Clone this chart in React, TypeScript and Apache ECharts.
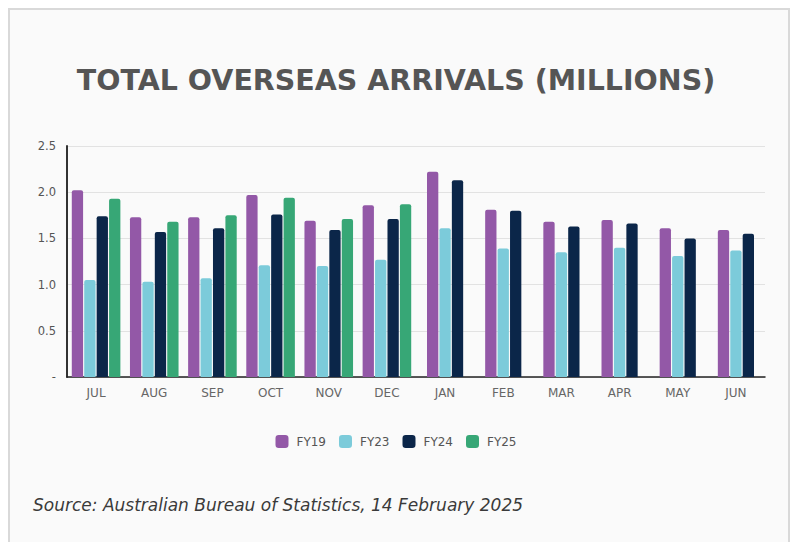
import React, { useEffect, useRef } from "react";
import * as echarts from "echarts";

const titleText = "TOTAL OVERSEAS ARRIVALS (MILLIONS)";
const sourceText = "Source: Australian Bureau of Statistics, 14 February 2025";
const months = ["JUL", "AUG", "SEP", "OCT", "NOV", "DEC", "JAN", "FEB", "MAR", "APR", "MAY", "JUN"];
const fy19 = [2.02, 1.73, 1.73, 1.97, 1.69, 1.86, 2.22, 1.81, 1.68, 1.70, 1.61, 1.59];
const fy23 = [1.05, 1.03, 1.07, 1.21, 1.20, 1.27, 1.61, 1.39, 1.35, 1.40, 1.31, 1.37];
const fy24 = [1.74, 1.57, 1.61, 1.76, 1.59, 1.71, 2.13, 1.80, 1.63, 1.66, 1.50, 1.55];
const fy25: (number | null)[] = [1.93, 1.68, 1.75, 1.94, 1.71, 1.87, null, null, null, null, null, null];
const yTicks = [0, 0.5, 1.0, 1.5, 2.0, 2.5];

const seriesDefs = [
  { name: "FY19", values: fy19 as (number | null)[], color: "#9358a7" },
  { name: "FY23", values: fy23 as (number | null)[], color: "#7ccbda" },
  { name: "FY24", values: fy24 as (number | null)[], color: "#0b2649" },
  { name: "FY25", values: fy25, color: "#37a776" },
];

export default function App() {
  const ref = useRef<HTMLDivElement>(null);
  useEffect(() => {
    if (!ref.current) return;
    const chart = echarts.init(ref.current, null, { renderer: "svg" });
    const hasFy25 = fy25.map((v) => v !== null);
    const barCommon = {
      type: "bar",
      barWidth: 11.3,
      barGap: "10%",
      itemStyle: { borderRadius: [2, 2, 0, 0] },
    };
    const series: any[] = [];
    seriesDefs.forEach((s) => {
      series.push({
        ...barCommon,
        name: s.name,
        xAxisIndex: 0,
        itemStyle: { ...barCommon.itemStyle, color: s.color },
        data: s.values.map((v, i) => (hasFy25[i] ? v : null)),
      });
    });
    seriesDefs.slice(0, 3).forEach((s) => {
      series.push({
        ...barCommon,
        name: s.name,
        xAxisIndex: 1,
        itemStyle: { ...barCommon.itemStyle, color: s.color },
        data: s.values.map((v, i) => (hasFy25[i] ? null : v)),
      });
    });
    chart.setOption({
      animation: false,
      backgroundColor: "#ffffff",
      title: {
        text: titleText,
        left: "center",
        top: 66,
        padding: [0, 0, 0, 8],
        textStyle: {
          fontFamily: "DejaVu Sans",
          fontWeight: "bold",
          fontSize: 28.5,
          color: "#555555",
        },
      },
      graphic: [
        {
          type: "rect",
          z: -10,
          silent: true,
          shape: { x: 9, y: 9, width: 780, height: 600 },
          style: { fill: "#fafafa", stroke: "#d9d9d9", lineWidth: 2 },
        },
        {
          type: "text",
          left: 33,
          top: 496,
          style: {
            text: sourceText,
            fontFamily: "DejaVu Sans",
            fontStyle: "italic",
            fontSize: 17,
            fill: "#3a3a3a",
          },
        },
      ],
      legend: {
        top: 430,
        left: "center",
        icon: "roundRect",
        itemWidth: 13,
        itemHeight: 13,
        itemGap: 13,
        padding: [5, 0, 5, 8],
        data: seriesDefs.map((s) => s.name),
        textStyle: {
          fontFamily: "DejaVu Sans",
          fontSize: 12,
          color: "#555555",
          padding: [0, 0, 0, 3],
        },
      },
      grid: { left: 67, right: 27, top: 146, bottom: 165, containLabel: false },
      xAxis: [
        {
          type: "category",
          data: months,
          axisLine: { lineStyle: { color: "#222222", width: 1.5 } },
          axisTick: { show: false },
          axisLabel: {
            margin: 10,
            fontFamily: "DejaVu Sans",
            fontSize: 12,
            color: "#666666",
          },
        },
        {
          type: "category",
          data: months,
          show: false,
        },
      ],
      yAxis: {
        type: "value",
        min: yTicks[0],
        max: yTicks[yTicks.length - 1],
        interval: 0.5,
        axisLine: { show: true, lineStyle: { color: "#333333", width: 2 } },
        axisTick: { show: false },
        splitLine: { lineStyle: { color: "#e2e2e2", width: 1.2 } },
        axisLabel: {
          margin: 11,
          fontFamily: "DejaVu Sans",
          fontSize: 11.5,
          color: "#555555",
          formatter: (v: number) => (v === 0 ? "-" : v.toFixed(1)),
        },
      },
      series,
    });
    return () => chart.dispose();
  }, []);
  return (
    <div
      ref={ref}
      style={{ position: "absolute", left: 0, top: 0, width: 792, height: 542 }}
    />
  );
}
